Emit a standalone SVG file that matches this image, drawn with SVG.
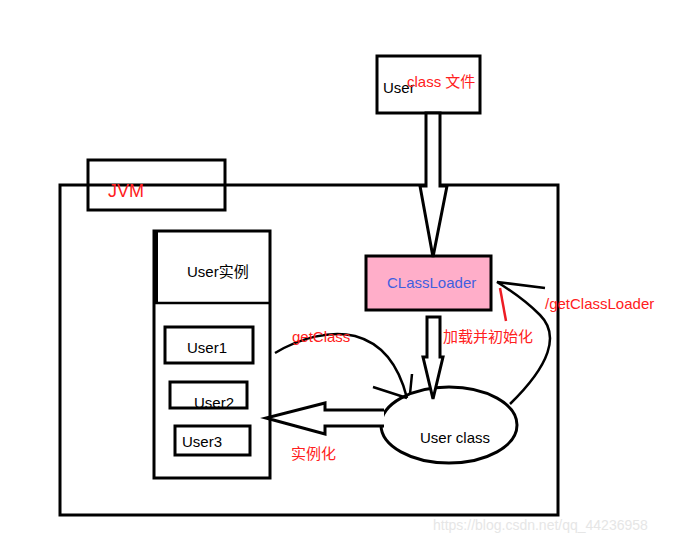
<svg xmlns="http://www.w3.org/2000/svg" width="685" height="543" viewBox="0 0 685 543">
<style>
.box{fill:#fff;stroke:#000;stroke-width:3}
.ln{fill:none;stroke:#000;stroke-width:2.5}
.arr{fill:#fff;stroke:#000;stroke-width:3;stroke-linejoin:miter}
text{font-family:"Liberation Sans","Noto Sans CJK SC",sans-serif;font-size:15px}
.k{fill:#000}
.r{fill:#ff2020}
.b{fill:#3f5fe0}
.w{fill:#e6e6e6;font-size:14px}
</style>
<rect width="685" height="543" fill="#fff"/>
<g id="jvm">
<rect class="box" x="60" y="185" width="498" height="330" fill="none"/>
</g>
<g id="jvm-label">
<rect x="88" y="160" width="137" height="50" fill="none" stroke="#000" stroke-width="3"/>
<text class="r" x="108" y="197" style="font-size:18px">JVM</text>
</g>
<g id="class-file">
<rect class="box" x="377" y="56" width="103" height="57"/>
<text class="k" x="383" y="93">User</text>
<text class="r" x="407" y="87">class 文件</text>
</g>
<g id="user-instance">
<rect class="box" x="154" y="231" width="116" height="247"/>
<line x1="156" y1="231" x2="156" y2="303" stroke="#000" stroke-width="4"/>
<line x1="154" y1="303" x2="270" y2="303" stroke="#000" stroke-width="2.5"/>
<text class="k" x="187" y="277">User实例</text>
</g>
<g id="user1">
<rect class="box" x="165" y="327" width="88" height="36"/>
<text class="k" x="187" y="353">User1</text>
</g>
<g id="user2">
<rect class="box" x="170" y="382" width="77" height="26"/>
<text class="k" x="194" y="408">User2</text>
</g>
<g id="user3">
<rect class="box" x="175" y="426" width="75" height="29"/>
<text class="k" x="182" y="447">User3</text>
</g>
<g id="classloader">
<rect x="366" y="256" width="125" height="54" fill="#ffaec9" stroke="#000" stroke-width="3"/>
<text class="b" x="387" y="288">CLassLoader</text>
</g>
<g id="user-class">
<ellipse cx="449" cy="425" rx="68" ry="38" fill="#fff" stroke="#000" stroke-width="3"/>
<text class="k" x="420" y="443">User class</text>
</g>
<g id="connectors">
<path class="arr" d="M426,113 L440,113 L440,186 L447,186 L433,257 L420,186 L426,186 Z"/>
<path class="arr" d="M427,317 L440,317 L440,357 L443,357 L433,399 L423,357 L427,357 Z"/>
<path class="arr" d="M384,410 L325,410 L325,403 L266,418 L325,434 L325,426 L384,426"/>
<path class="ln" d="M275,353 C300,338 330,330 355,336 C385,344 400,370 407,398"/>
<path class="ln" d="M373,387 L407,398 M412,374 L410,394"/>
<path class="ln" d="M510,404 C550,365 560,335 540,315 C525,300 510,290 497,282 L545,288"/>
<line x1="500" y1="288" x2="506" y2="321" stroke="#ed1c24" stroke-width="2.5"/>
</g>
<g id="labels">
<text class="r" x="292" y="342">getClass</text>
<text class="r" x="443" y="342">加载并初始化</text>
<text class="r" x="545" y="309">/getClassLoader</text>
<text class="r" x="291" y="459">实例化</text>
<text class="w" x="433" y="530">https://blog.csdn.net/qq_44236958</text>
</g>
</svg>
